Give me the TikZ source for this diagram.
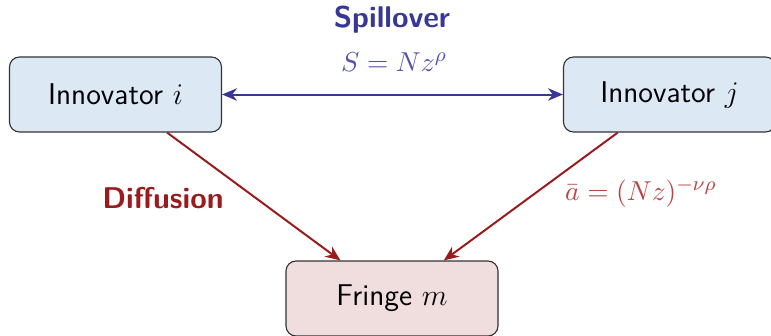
\documentclass[tikz,border=0pt]{standalone}
\usetikzlibrary{arrows.meta}
\definecolor{spblue}{RGB}{55,55,150}
\definecolor{spbluel}{RGB}{85,85,170}
\definecolor{dfred}{RGB}{152,28,30}
\definecolor{dfredl}{RGB}{185,70,70}
\definecolor{boxblue}{RGB}{220,233,245}
\definecolor{boxred}{RGB}{240,222,222}
\tikzset{
  agent/.style={draw=black!80, line width=0.45pt, rounded corners=4pt, fill=boxblue,
    minimum width=84.8pt, minimum height=30pt, inner sep=0pt, font=\large\sffamily},
  fringebox/.style={agent, fill=boxred},
  bluearrow/.style={draw=spblue, line width=0.8pt, {Stealth[length=6pt,width=5pt]}-{Stealth[length=6pt,width=5pt]}},
  redarrow/.style={draw=dfred, line width=0.8pt, -{Stealth[length=6pt,width=5pt]}},
  mathlabel/.style={font=\fontsize{11}{13}\selectfont, inner sep=1pt},
}
\begin{document}
\begin{tikzpicture}[x=0.4pt,y=-0.4pt]
\useasboundingbox (0,0) rectangle (771,335);
\node[agent] (i) at (115.5,94.5) {Innovator $i$};
\node[agent] (j) at (669.5,94.5) {Innovator $j$};
\node[fringebox] (m) at (392,298.5) {Fringe $m$};
\draw[bluearrow] (i) -- (j);
\draw[redarrow] (i) -- (m);
\draw[redarrow] (j) -- (m);
\node[text=spblue, font=\large\sffamily\bfseries] (spill) at (392,20) {Spillover};
\node[mathlabel, text=spbluel] (slab) at (394,62) {$S = N z^{\rho}$};
\node[text=dfred, font=\large\sffamily\bfseries] (diff) at (163,198) {Diffusion};
\node[mathlabel, text=dfredl] (alab) at (641,193) {$\bar{a} = (Nz)^{-\nu\rho}$};
\end{tikzpicture}
\end{document}
